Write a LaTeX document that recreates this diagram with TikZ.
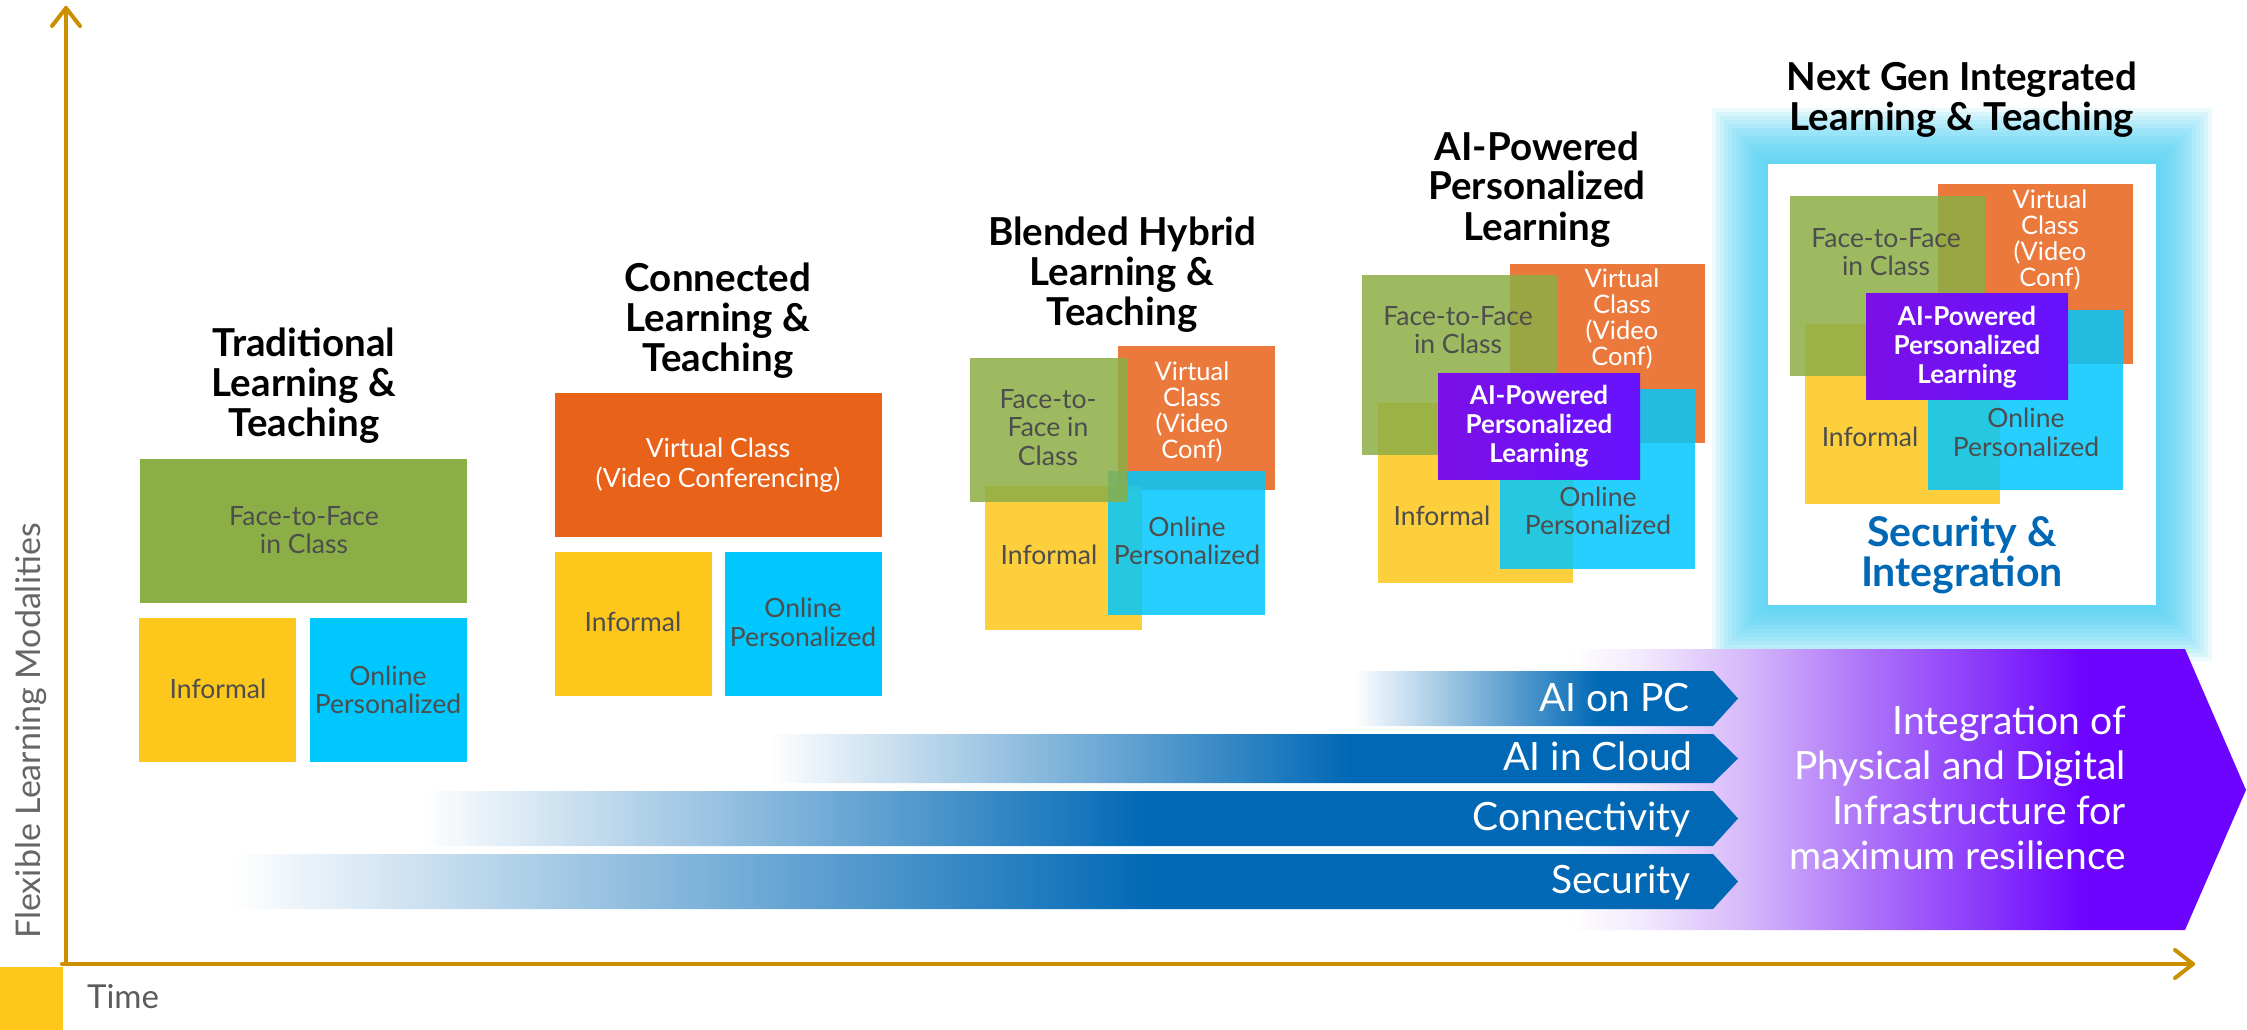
\documentclass[tikz,border=0pt]{standalone}
\usepackage{fontspec}
\setmainfont{Lato}
\usetikzlibrary{calc}
\definecolor{axisc}{HTML}{CC8F00}
\definecolor{cgreen}{HTML}{8CAE46}
\definecolor{corange}{HTML}{E8621A}
\definecolor{cyellow}{HTML}{FDC71C}
\definecolor{ccyan}{HTML}{00C7FD}
\definecolor{cpurpL}{HTML}{7B10E6}
\definecolor{cpurpR}{HTML}{6612FF}
\definecolor{txtgray}{HTML}{4D4D4D}
\definecolor{axgray}{HTML}{666666}
\definecolor{barblue}{HTML}{0068B5}
\definecolor{glowc}{HTML}{3FCFF5}
\definecolor{puA}{HTML}{F3EBFE}
\definecolor{puB}{HTML}{D6B8FA}
\definecolor{puC}{HTML}{B07AF8}
\definecolor{puD}{HTML}{8C3CFA}
\definecolor{puE}{HTML}{6C04FF}
\pgfdeclarehorizontalshading{purpgrad}{100bp}{color(0bp)=(white); color(25bp)=(white); color(30bp)=(puA); color(38bp)=(puB); color(46bp)=(puC); color(55bp)=(puD); color(63bp)=(puE); color(100bp)=(puE)}
\pgfdeclarehorizontalshading{barS}{100bp}{color(0bp)=(white); color(25bp)=(white); color(55.7bp)=(barblue); color(100bp)=(barblue)}
\pgfdeclarehorizontalshading{barC}{100bp}{color(0bp)=(white); color(25bp)=(white); color(52.7bp)=(barblue); color(100bp)=(barblue)}
\pgfdeclarehorizontalshading{barA}{100bp}{color(0bp)=(white); color(25bp)=(white); color(55bp)=(barblue); color(100bp)=(barblue)}
\pgfdeclarehorizontalshading{barP}{100bp}{color(0bp)=(white); color(25bp)=(white); color(57bp)=(barblue); color(100bp)=(barblue)}
\newcommand\mybox[6][]{\node[box, minimum width={#5-#3}, minimum height={#6-#4}, #1] (#2) at (#3,#4) {};}
\newcommand\mybar[4]{%
  \shade[shading=#4] (#1,#2) -- (1713,#2) -- (1738,{(#2+#3)/2}) -- (1713,#3) -- (#1,#3) -- cycle;}
\begin{document}
\begin{tikzpicture}[x=1pt,y=-1pt,
  box/.style={rectangle, inner sep=0pt, outer sep=0pt, anchor=north west, draw=none},
  tbox/.style={fill opacity=0.85},
  ttl/.style={font=\bfseries\fontsize{38.5}{40}\selectfont, align=center, inner sep=0pt, anchor=base, text=black},
  lbl/.style={font=\fontsize{26.5}{28}\selectfont, align=center, inner sep=0pt, anchor=base, text=txtgray},
  wlbl/.style={lbl, text=white},
  vlbl/.style={wlbl, font=\fontsize{25.5}{26}\selectfont},
  plbl/.style={font=\bfseries\fontsize{26}{29}\selectfont, align=center, inner sep=0pt, anchor=base, text=white},
  barlbl/.style={font=\fontsize{39}{40}\selectfont, inner sep=0pt, anchor=base east, text=white},
  axisline/.style={draw=axisc, line width=4pt, line cap=round, line join=round}]
\useasboundingbox (0,0) rectangle (2247,1030);
\fill[white] (0,0) rectangle (2247,1030);

% ---------- axes ----------
\coordinate (origin) at (66,964);
\coordinate (ytop) at (66,8);
\coordinate (xend) at (2193,964);
\draw[axisline] (origin) -- (ytop);
\draw[axisline] ($(ytop)+(-14,18)$) -- (ytop) -- ($(ytop)+(14,18)$);
\draw[axisline] (62,964) -- (xend);
\draw[axisline] ($(xend)+(-18,-14)$) -- (xend) -- ($(xend)+(-18,14)$);
\fill[cyellow] (0,967) rectangle (63,1030);
\node[font=\fontsize{33}{36}\selectfont, text=axgray!90!black, inner sep=0pt] (time) at (123,997) {Time};
\node[font=\fontsize{34}{36}\selectfont, text=axgray, rotate=90, inner sep=0pt] (ylab) at (31,731) {Flexible Learning Modalities};

% ---------- column 1 ----------
\node[ttl] (t1) at (304,436) {Traditional\\Learning \&\\Teaching};
\mybox[fill=cgreen]{c1f}{140}{459}{467}{603}
\mybox[fill=cyellow]{c1y}{139}{618}{296}{762}
\mybox[fill=ccyan]{c1c}{310}{618}{467}{762}
\node[lbl] (l1f) at (304,553) {Face-to-Face\\in Class};
\node[lbl] (l1y) at (218,698) {Informal};
\node[lbl] (l1c) at (388,713) {Online\\Personalized};

% ---------- column 2 ----------
\node[ttl] (t2) at (718,371) {Connected\\Learning \&\\Teaching};
\mybox[fill=corange]{c2o}{555}{393}{882}{537}
\mybox[fill=cyellow]{c2y}{555}{552}{712}{696}
\mybox[fill=ccyan]{c2c}{725}{552}{882}{696}
\node[wlbl, font=\fontsize{26.5}{30}\selectfont] (l2o) at (718,487) {Virtual Class\\(Video Conferencing)};
\node[lbl] (l2y) at (633,631) {Informal};
\node[lbl, font=\fontsize{26.5}{29}\selectfont] (l2c) at (803,646) {Online\\Personalized};

% ---------- column 3 ----------
\node[ttl] (t3) at (1122,325) {Blended Hybrid\\Learning \&\\Teaching};
\mybox[fill=corange, tbox]{c3o}{1118}{346}{1275}{490}
\mybox[fill=cyellow, tbox]{c3y}{985}{486}{1142}{630}
\mybox[fill=ccyan, tbox]{c3c}{1108}{471}{1265}{615}
\mybox[fill=cgreen, tbox]{c3f}{970}{358}{1127}{502}
\node[lbl, font=\fontsize{26.5}{28.5}\selectfont] (l3f) at (1048,465) {Face-to-\\Face in\\Class};
\node[vlbl] (l3o) at (1192,458) {Virtual\\Class\\(Video\\Conf)};
\node[lbl] (l3y) at (1049,564) {Informal};
\node[lbl] (l3c) at (1187,564) {Online\\Personalized};

% ---------- column 4 ----------
\node[ttl] (t4) at (1537,240) {AI-Powered\\Personalized\\Learning};
\mybox[fill=corange, tbox]{c4o}{1510}{264}{1705}{443}
\mybox[fill=cyellow, tbox]{c4y}{1378}{403}{1573}{583}
\mybox[fill=ccyan, tbox]{c4c}{1500}{389}{1695}{569}
\mybox[fill=cgreen, tbox]{c4f}{1362}{275}{1557}{455}
\mybox[left color=cpurpL, right color=cpurpR]{c4p}{1438}{373}{1640}{479}
\node[lbl] (l4f) at (1458,353) {Face-to-Face\\in Class};
\node[vlbl] (l4o) at (1622,365) {Virtual\\Class\\(Video\\Conf)};
\node[plbl] (l4p) at (1539,462) {AI-Powered\\Personalized\\Learning};
\node[lbl] (l4y) at (1442,525) {Informal};
\node[lbl] (l4c) at (1598,534) {Online\\Personalized};

% ---------- column 5 ----------
\foreach \d in {4,8,...,56}
  \fill[glowc, fill opacity=0.1] (1768-\d,164-\d) rectangle (2156+\d,605+\d);
\mybox[fill=white]{c5w}{1768}{164}{2156}{605}
\node[ttl] (t5) at (1962,131) {Next Gen Integrated\\Learning \& Teaching};
\mybox[fill=corange, tbox]{c5o}{1938}{184}{2133}{364}
\mybox[fill=cyellow, tbox]{c5y}{1805}{324}{2000}{504}
\mybox[fill=ccyan, tbox]{c5c}{1928}{310}{2123}{490}
\mybox[fill=cgreen, tbox]{c5f}{1790}{196}{1985}{376}
\mybox[left color=cpurpL, right color=cpurpR]{c5p}{1866}{293}{2068}{399}
\node[lbl] (l5f) at (1886,275) {Face-to-Face\\in Class};
\node[vlbl] (l5o) at (2050,286) {Virtual\\Class\\(Video\\Conf)};
\node[plbl] (l5p) at (1967,383) {AI-Powered\\Personalized\\Learning};
\node[lbl] (l5y) at (1870,446) {Informal};
\node[lbl, font=\fontsize{26.5}{29}\selectfont] (l5c) at (2026,456) {Online\\Personalized};
\node[font=\bfseries\fontsize{41}{40}\selectfont, text=barblue, align=center, inner sep=0pt, anchor=base] (l5s) at (1962,586) {Security \&\\Integration};

% ---------- bottom arrows ----------
\shade[shading=purpgrad] (1570,649) -- (2185,649) -- (2246,790) -- (2185,930) -- (1570,930) -- cycle;
\mybar{1354}{671}{726}{barP}
\mybar{768}{734}{783}{barA}
\mybar{421}{791}{846}{barC}
\mybar{232}{854}{909}{barS}
\node[barlbl] (bpc) at (1690,711) {AI on PC};
\node[barlbl] (bcl) at (1693,770) {AI in Cloud};
\node[barlbl] (bco) at (1691,830) {Connectivity};
\node[barlbl] (bse) at (1691,893) {Security};
\node[font=\fontsize{39}{45}\selectfont, text=white, align=right, inner sep=0pt, anchor=base east] (integ) at (2126,869) {Integration of\\Physical and Digital\\Infrastructure for\\maximum resilience};
\end{tikzpicture}
\end{document}
